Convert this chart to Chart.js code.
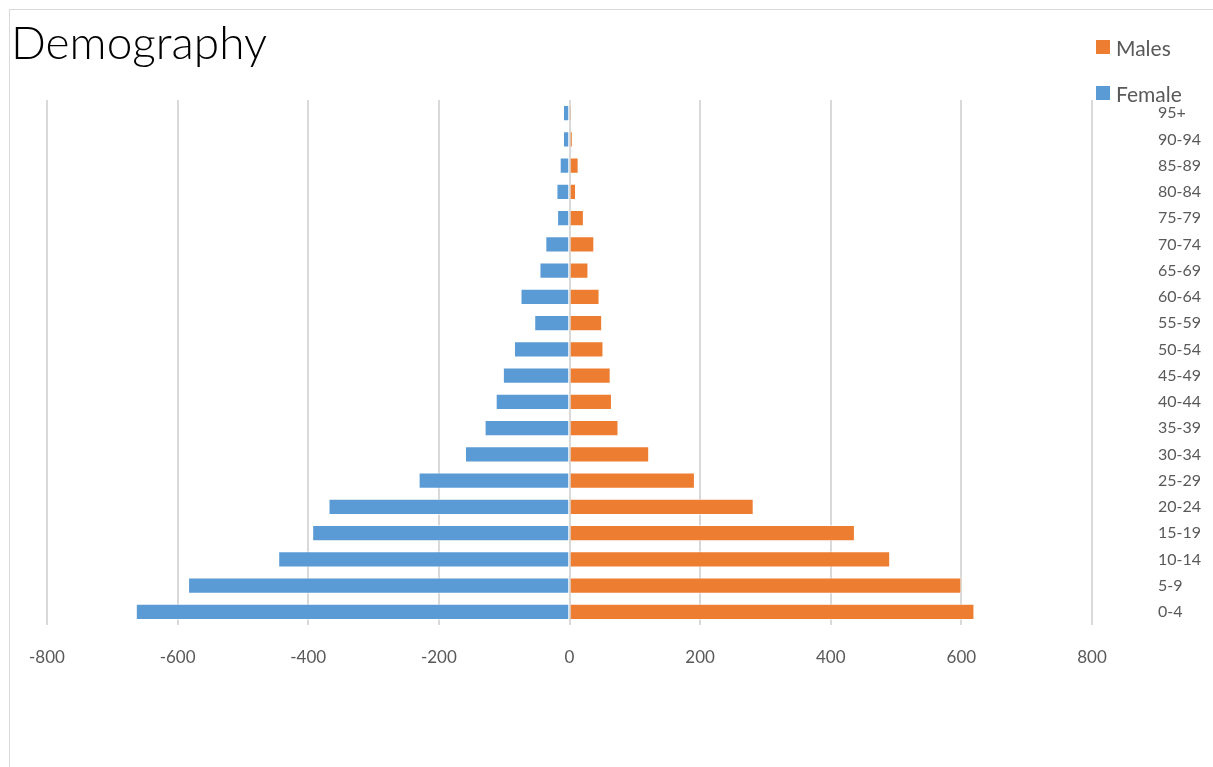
<!DOCTYPE html>
<html>
<head>
<meta charset="utf-8">
<script src="https://cdn.jsdelivr.net/npm/chart.js@4/dist/chart.umd.min.js"></script>
<style>
  html, body { margin: 0; padding: 0; background: #fff; }
  #wrap { position: relative; width: 1213px; height: 767px; overflow: hidden; }
  #frame { position: absolute; left: 9px; top: 9px; width: 1220px; height: 780px; border: 1px solid #d9d9d9; box-sizing: border-box; }
  #title { position: absolute; left: 11px; top: 12px; font-family: Lato, sans-serif; font-weight: 300; font-size: 46px; color: #000; line-height: 60px; }
  #legend { position: absolute; left: 1096px; top: 33px; font-family: Lato, sans-serif; font-size: 21px; color: #595959; }
  #legend .item { display: flex; align-items: center; height: 28px; margin-bottom: 18px; }
  #legend .sw { width: 14px; height: 14px; margin-right: 6px; }
  canvas { position: absolute; left: 0; top: 0; }
</style>
</head>
<body>
<div id="wrap">
  <div id="frame"></div>
  <canvas id="c" width="1213" height="767"></canvas>
  <div id="title">Demography</div>
  <div id="legend"></div>
</div>
<script>
// Age groups, youngest first (drawn bottom to top)
const ageGroups = ['0-4','5-9','10-14','15-19','20-24','25-29','30-34','35-39','40-44','45-49',
                   '50-54','55-59','60-64','65-69','70-74','75-79','80-84','85-89','90-94','95+'];
// Males to the right of zero
const males   = [620, 600, 491, 437, 282, 192, 122, 75, 65, 63, 52, 50, 46, 29, 38, 22, 10, 14, 5, 3];
// Females stored as negatives so they extend to the left
const females = [-664, -584, -446, -394, -369, -231, -160, -130, -113, -102, -85, -54, -75, -46, -37, -19, -20, -15, -10, -10];
const xTicks  = [-800, -600, -400, -200, 0, 200, 400, 600, 800];

const tickFont = { family: 'Lato, sans-serif', size: 17 };

const chart = new Chart(document.getElementById('c'), {
  type: 'bar',
  data: {
    labels: ageGroups,
    datasets: [
      { label: 'Males',  data: males,   backgroundColor: '#ED7D31', borderColor: 'rgba(255,255,255,0.6)', borderWidth: 1, barPercentage: 0.62, categoryPercentage: 1 },
      { label: 'Female', data: females, backgroundColor: '#5B9BD5', borderColor: 'rgba(255,255,255,0.6)', borderWidth: 1, barPercentage: 0.62, categoryPercentage: 1 }
    ]
  },
  options: {
    indexAxis: 'y',
    responsive: false,
    animation: false,
    layout: { padding: { left: 47, right: 0, top: 100, bottom: 92 } },
    plugins: { legend: { display: false }, title: { display: false }, tooltip: { enabled: false } },
    scales: {
      x: {
        type: 'linear', min: -800, max: 800,
        afterBuildTicks: s => { s.ticks = xTicks.map(v => ({ value: v })); },
        afterFit: s => { s.height = 50; s.paddingLeft = 0; s.paddingRight = 0; },
        grid: { color: '#d9d9d9', lineWidth: 2, drawTicks: false },
        border: { display: false },
        ticks: { color: '#595959', font: tickFont, padding: 22, maxRotation: 0 }
      },
      y: {
        stacked: true, reverse: true, position: 'right',
        afterFit: s => { s.width = 121; },
        grid: { display: false },
        border: { display: false },
        ticks: { color: '#595959', font: { family: 'Lato, sans-serif', size: 16 }, padding: 58, crossAlign: 'near', autoSkip: false }
      }
    }
  }
});

// Legend built from the chart's datasets
const legendEl = document.getElementById('legend');
chart.data.datasets.forEach(ds => {
  const item = document.createElement('div');
  item.className = 'item';
  const sw = document.createElement('span');
  sw.className = 'sw';
  sw.style.background = ds.backgroundColor;
  const txt = document.createElement('span');
  txt.textContent = ds.label;
  item.appendChild(sw); item.appendChild(txt);
  legendEl.appendChild(item);
});
</script>
</body>
</html>
